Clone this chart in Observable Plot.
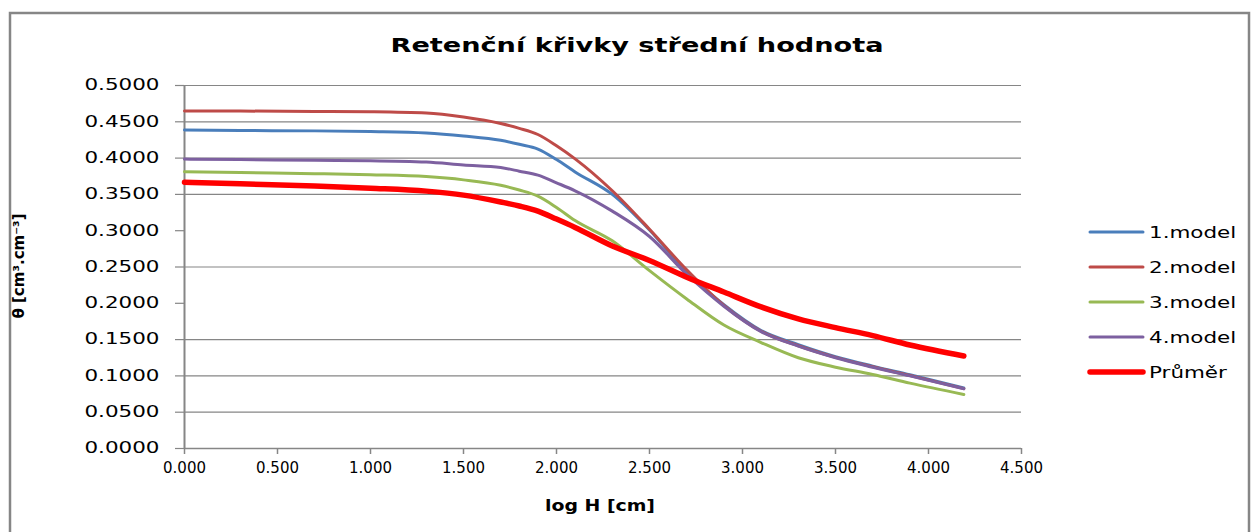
<!DOCTYPE html>
<html>
<head>
<meta charset="utf-8">
<script src="https://cdn.jsdelivr.net/npm/d3@7"></script>
<script src="https://cdn.jsdelivr.net/npm/@observablehq/plot@0.6"></script>
<style>
  html, body { margin: 0; padding: 0; background: #fff; }
  #chart { width: 1252px; height: 532px; }
</style>
</head>
<body>
<div id="chart"></div>
<script>
// ---- data ----
const title = "Retenční křivky střední hodnota";
const xLabel = "log H [cm]";
const yLabel = "θ [cm³.cm⁻³]";
const seriesNames = ["1.model", "2.model", "3.model", "4.model", "Průměr"];
const seriesColors = ["#4A7EBB", "#BE4B48", "#98B954", "#7D60A0", "#FF0000"];
const logH = [0, 0.3, 0.7, 1.0, 1.3, 1.5, 1.7, 1.8, 1.9, 2.0, 2.1, 2.3, 2.5, 2.7, 2.9, 3.1, 3.3, 3.5, 3.7, 3.9, 4.19];
const model1 = [0.4386, 0.4380, 0.4375, 0.4365, 0.4345, 0.4305, 0.4246, 0.4190, 0.4125, 0.3980, 0.3810, 0.3500, 0.3010, 0.2430, 0.1980, 0.1625, 0.1430, 0.1265, 0.1135, 0.1015, 0.0835];
const model2 = [0.4650, 0.4648, 0.4643, 0.4638, 0.4620, 0.4565, 0.4476, 0.4410, 0.4325, 0.4170, 0.3990, 0.3550, 0.3020, 0.2460, 0.1970, 0.1615, 0.1415, 0.1255, 0.1125, 0.1005, 0.0825];
const model3 = [0.3813, 0.3800, 0.3785, 0.3770, 0.3745, 0.3700, 0.3626, 0.3560, 0.3475, 0.3320, 0.3140, 0.2860, 0.2450, 0.2060, 0.1700, 0.1460, 0.1250, 0.1120, 0.1020, 0.0900, 0.0744];
const model4 = [0.3986, 0.3980, 0.3970, 0.3965, 0.3945, 0.3905, 0.3870, 0.3820, 0.3765, 0.3660, 0.3550, 0.3270, 0.2920, 0.2400, 0.1960, 0.1610, 0.1410, 0.1250, 0.1120, 0.1000, 0.0823];
const mean   = [0.3667, 0.3645, 0.3615, 0.3585, 0.3545, 0.3490, 0.3395, 0.3340, 0.3270, 0.3160, 0.3045, 0.2790, 0.2590, 0.2360, 0.2155, 0.1950, 0.1785, 0.1665, 0.1555, 0.1425, 0.1275];
const xTicks = [0, 0.5, 1, 1.5, 2, 2.5, 3, 3.5, 4, 4.5];
const yTicks = [0, 0.05, 0.1, 0.15, 0.2, 0.25, 0.3, 0.35, 0.4, 0.45, 0.5];
const yGrid  = [0.05, 0.1, 0.15, 0.25, 0.35, 0.4, 0.45, 0.5];

const allSeries = [model1, model2, model3, model4, mean];
const rows = allSeries.flatMap((vals, i) => vals.map((v, j) => ({x: logH[j], y: v, s: seriesNames[i]})));
const modelRows = rows.filter(d => d.s !== seriesNames[4]);
const meanRows = rows.filter(d => d.s === seriesNames[4]);
const grey = "#868686";

const chart = Plot.plot({
  width: 1252, height: 532,
  marginLeft: 184, marginRight: 231, marginTop: 85, marginBottom: 84,
  style: {fontFamily: "DejaVu Sans", fontSize: "15px", color: "#000", background: "transparent"},
  x: {domain: [0, 4.5], ticks: xTicks, tickFormat: d3.format(".3f"), label: null},
  y: {domain: [0, 0.5], ticks: yTicks, tickFormat: d3.format(".4f"), label: null},
  color: {domain: seriesNames, range: seriesColors},
  marks: [
    Plot.ruleY(yGrid, {stroke: grey, strokeWidth: 1.2}),
    Plot.axisY({ticks: yTicks, tickSize: 9, tickPadding: 16, stroke: grey, strokeWidth: 1.2, fontSize: 15, tickFormat: d3.format(".4f"), label: null}),
    Plot.axisX({ticks: xTicks, tickSize: 6, tickPadding: 8, stroke: grey, strokeWidth: 1.5, fontSize: 15, tickFormat: d3.format(".3f"), label: null}),
    Plot.ruleX([0], {stroke: grey, strokeWidth: 2}),
    Plot.ruleY([0], {stroke: grey, strokeWidth: 1.5}),
    Plot.line(modelRows, {x: "x", y: "y", stroke: "s", strokeWidth: 3, curve: "monotone-x"}),
    Plot.line(meanRows, {x: "x", y: "y", stroke: "s", strokeWidth: 5.5, curve: "monotone-x"})
  ]
});
document.getElementById("chart").appendChild(chart);

const svg = d3.select(chart);
function stretch(el, target) {
  el.setAttribute("textLength", target);
  el.setAttribute("lengthAdjust", "spacingAndGlyphs");
}
// frame
svg.append("rect").attr("x", 10).attr("y", 13).attr("width", 1239).attr("height", 540)
  .attr("fill", "none").attr("stroke", grey).attr("stroke-width", 2.5);
// stretch y tick labels like the reference
chart.querySelectorAll('[aria-label="y-axis tick label"] text').forEach(t => {
  stretch(t, t.getComputedTextLength() * 1.43);
});
// title
const tt = svg.append("text").attr("x", 637).attr("y", 52).attr("text-anchor", "middle")
  .attr("font-weight", "bold").attr("font-size", 20).attr("fill", "#000").text(title);
stretch(tt.node(), 493);
// x label
const xl = svg.append("text").attr("x", 600).attr("y", 511).attr("text-anchor", "middle")
  .attr("font-weight", "bold").attr("font-size", 16).attr("fill", "#000").text(xLabel);
stretch(xl.node(), 110);
// y label
svg.append("text").attr("transform", "translate(24,266) rotate(-90)").attr("text-anchor", "middle")
  .attr("font-weight", "bold").attr("font-size", 15).attr("fill", "#000").text(yLabel);
// legend
const legY = [232, 267, 302, 337, 372];
seriesNames.forEach((name, i) => {
  svg.append("line").attr("x1", 1090).attr("x2", 1143).attr("y1", legY[i]).attr("y2", legY[i])
    .attr("stroke", seriesColors[i]).attr("stroke-width", i === 4 ? 5.5 : 3).attr("stroke-linecap", "round");
  const t = svg.append("text").attr("x", 1149).attr("y", legY[i] + 6).attr("text-anchor", "start")
    .attr("font-size", 15).attr("fill", "#000").text(name);
  stretch(t.node(), t.node().getComputedTextLength() * 1.43);
});
</script>
</body>
</html>
